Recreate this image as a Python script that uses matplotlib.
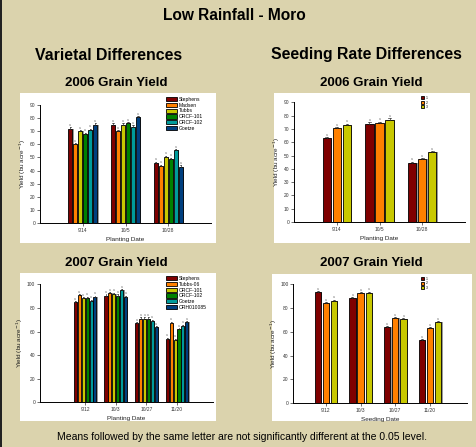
import matplotlib
matplotlib.use("Agg")
import matplotlib.pyplot as plt
from matplotlib.patches import Rectangle
import numpy as np

plt.rcParams['font.family'] = ['Liberation Sans', 'DejaVu Sans']

# ---------------- data ----------------
var_colors = ['#7f0000', '#ff8000', '#c8c800', '#008000', '#009b9b', '#003f7f']
rate_colors = ['#7f0000', '#ff8000', '#c8c800']

dates06 = ['9/14', '10/5', '10/28']
varieties06 = ['Stephens', 'Madsen', 'Tubbs', 'ORCF-101', 'ORCF-102', 'Goetze']
var06 = [
    [72, 60, 70, 68, 71, 75],      # 9/14
    [75, 70, 75, 76, 73.5, 80.5],  # 10/5
    [46, 43.5, 50.5, 49, 55.5, 43],  # 10/28
]

dates07 = ['9/12', '10/3', '10/27', '11/20']
varieties07 = ['Stephens', 'Tubbs-06', 'ORCF-101', 'ORCF-102', 'Goetze', 'ORH010085']
var07 = [
    [85, 91, 88, 88.5, 86, 89.5],
    [90.5, 92.5, 92, 90.5, 95, 89.5],
    [67, 71, 71, 71, 69, 63.5],
    [54, 67.5, 53, 62, 65, 68],
]

rates = ['1', '2', '3']
rate06 = [
    [63, 70.5, 73],
    [74, 74.5, 77],
    [44.5, 47, 52.5],
]
rate07 = [
    [93.5, 84, 86],
    [88.5, 92.5, 93],
    [64, 71.5, 70.5],
    [53, 63, 68],
]

BG = '#dbd3ad'
W, H = 476, 447
fig = plt.figure(figsize=(W / 100, H / 100), dpi=100)
fig.patch.set_facecolor(BG)

def fx(px):
    return px / W

def fy(py):
    return 1 - py / H

# left dark border
fig.patches.append(Rectangle((0, 0), fx(2), 1, transform=fig.transFigure,
                             facecolor='#222222', edgecolor='none', zorder=-5))

# white panels (x0, y0, x1, y1) in pixels
panels = [(20, 93, 216, 243), (274, 93, 470, 243), (20, 273, 216, 421), (272, 274, 472, 421)]
for x0, y0, x1, y1 in panels:
    fig.patches.append(Rectangle((fx(x0), fy(y1)), fx(x1 - x0), (y1 - y0) / H,
                                 transform=fig.transFigure, facecolor='white',
                                 edgecolor='none', zorder=-5))

# headings
fig.text(fx(234.5), fy(15), 'Low Rainfall - Moro', ha='center', va='center',
         fontsize=11.2, fontweight='bold')
fig.text(fx(108.5), fy(55), 'Varietal Differences', ha='center', va='center',
         fontsize=11.4, fontweight='bold')
fig.text(fx(366), fy(55), 'Seeding Rate Differences', ha='center', va='center',
         fontsize=11.4, fontweight='bold')
for cx, cy, t in [(116, 83, '2006 Grain Yield'), (371, 83, '2006 Grain Yield'),
                  (116, 263, '2007 Grain Yield'), (371, 263, '2007 Grain Yield')]:
    fig.text(fx(cx), fy(cy), t, ha='center', va='center', fontsize=9.5, fontweight='bold')
fig.text(fx(242), fy(437), 'Means followed by the same letter are not significantly different at the 0.05 level.',
         ha='center', va='center', fontsize=7.5)


def draw(ax_rect, cats, series_names, data, colors, slot, width, xlim, ylim, yticks,
         xlabel, unit_px, legend_rect, legend_text):
    x0, y0, x1, y1 = ax_rect  # pixel coords of axes (y0=top, y1=bottom)
    ax = fig.add_axes([fx(x0), fy(y1), fx(x1 - x0), (y1 - y0) / H])
    ax.set_facecolor('none')
    data = np.array(data)
    n = data.shape[1]
    xs = np.arange(1, len(cats) + 1)
    sh = 1.3 / unit_px
    handles = []
    for i in range(n):
        xi = xs + (i - (n - 1) / 2) * slot
        ax.bar(xi + sh, data[:, i], width=width, color='#9a9a9a', edgecolor='none',
               zorder=1)
        b = ax.bar(xi, data[:, i], width=width, color=colors[i], edgecolor='black',
                   linewidth=0.6, zorder=2)
        handles.append(b)
        for xv, yv in zip(xi, data[:, i]):
            ax.plot([xv - width * 0.15, xv + width * 0.15], [yv + 0.9, yv + 0.9],
                    color='#333333', lw=0.5, zorder=3)
            ax.plot([xv, xv], [yv, yv + 0.9], color='#333333', lw=0.5, zorder=3)
            ax.text(xv, yv + 1.2, 'a', ha='center', va='bottom', fontsize=2.5,
                    color='#777777')
    ax.set_xlim(*xlim)
    ax.set_ylim(*ylim)
    ax.set_yticks(yticks)
    ax.set_xticks(xs)
    ax.set_xticklabels(cats)
    for s in ['top', 'right']:
        ax.spines[s].set_visible(False)
    ax.spines['left'].set_linewidth(0.7)
    ax.spines['bottom'].set_linewidth(0.7)
    ax.tick_params(axis='both', labelsize=3.5, length=2, width=0.5, pad=1.5,
                   colors='#333333')
    ax.set_xlabel(xlabel, fontsize=4.6, labelpad=3, color='#222222')
    ax.set_ylabel('Yield (bu acre$^{-1}$)', fontsize=4.6, labelpad=1, color='#222222')
    lx0, ly0, lx1, ly1 = legend_rect
    fig.legend(handles, series_names, loc='upper left',
               bbox_to_anchor=(fx(lx0), fy(ly0)), frameon=False,
               fontsize=legend_text, handlelength=2.2 if n > 3 else 1.0,
               handleheight=0.9, labelspacing=0.15, borderpad=0, borderaxespad=0,
               handletextpad=0.4)
    return ax


draw((40, 105, 211, 223), dates06, varieties06, var06, var_colors, 0.117, 0.095,
     (0, 4), (0, 90), list(range(0, 91, 10)), 'Planting Date', 42.75,
     (166, 97, 210, 128), 3.6)
draw((294, 102.3, 465, 222), dates06, rates, rate06, rate_colors, 0.235, 0.196,
     (0, 4), (0, 90), list(range(0, 91, 10)), 'Planting Date', 42.5,
     (421, 96, 440, 108), 2.4)
draw((40, 284.3, 212.7, 402.3), dates07, varieties07, var07, var_colors, 0.128, 0.1,
     (-0.475, 5.165), (0, 100), list(range(0, 101, 20)), 'Planting Date', 30.5,
     (166, 276, 210, 310), 3.6)
draw((293.3, 284.3, 466.7, 403), dates07, rates, rate07, rate_colors, 0.235, 0.18,
     (0.06, 5.06), (0, 100), list(range(0, 101, 20)), 'Seeding Date', 34.7,
     (421, 277, 440, 290), 2.4)

fig.savefig('out.png', dpi=100, facecolor=BG)
